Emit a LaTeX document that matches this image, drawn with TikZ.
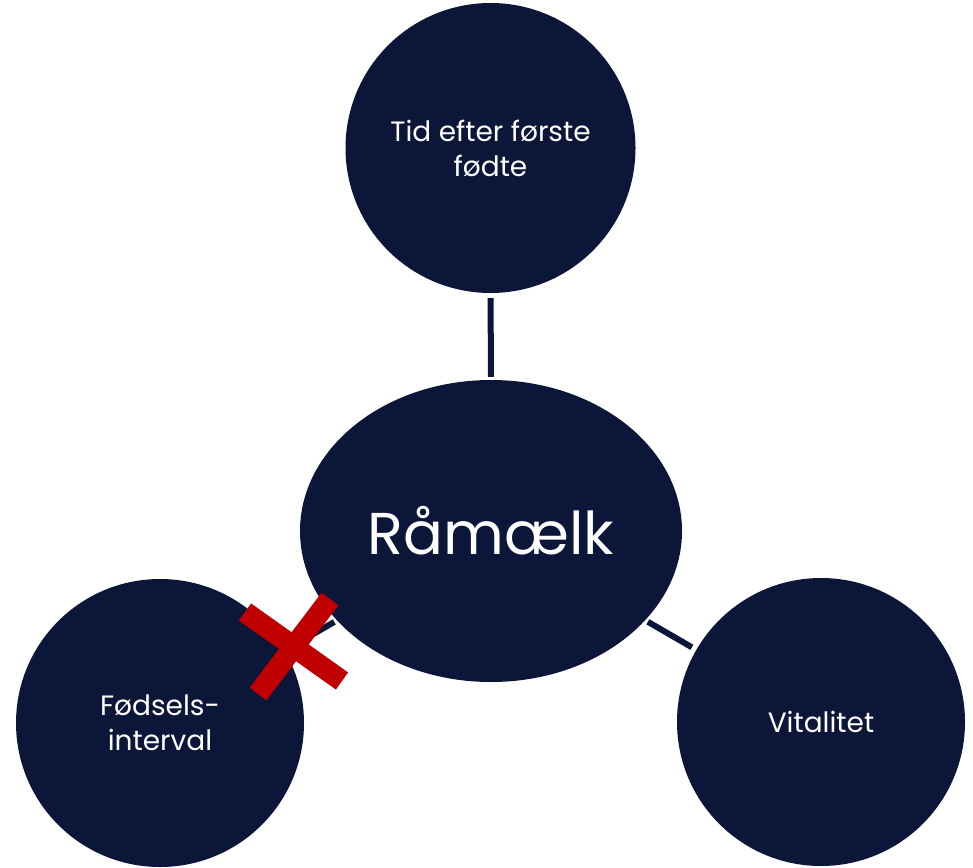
\documentclass[tikz,border=0pt]{standalone}
\usepackage{fontspec}
\setmainfont{Poppins}
\usetikzlibrary{shapes.geometric}
\definecolor{navy}{HTML}{0B1639}
\definecolor{xred}{HTML}{C00000}
\tikzset{
  bubble/.style={circle, fill=navy, draw=none, inner sep=0pt, minimum size=288pt,
    text=white, align=center, font=\fontsize{28}{35}\selectfont},
  conn/.style={draw=navy, line width=6pt, shorten <=3pt, shorten >=5pt},
  xbar/.style={draw=xred, line width=21pt}
}
\begin{document}
\begin{tikzpicture}[x=1pt,y=-1pt]
\useasboundingbox (0,0) rectangle (973,867);
\node[bubble, minimum size=290pt] (top) at (490.5,148) {Tid efter første\\fødte};
\node[bubble] (left) at (160,723) {Fødsels-\\interval};
\node[bubble] (right) at (821,722) {Vitalitet};
\node[ellipse, fill=navy, inner sep=0pt, minimum width=382pt, minimum height=302pt,
  text=white, font=\fontsize{59}{70}\selectfont] (center) at (491,531) {Råmælk};
\draw[conn] (center) -- (top);
\draw[conn] (center) -- (right);
\draw[conn] (center) -- (left);
\coordinate (xa1) at (245,612);
\coordinate (xa2) at (342,681);
\coordinate (xb1) at (330,599);
\coordinate (xb2) at (258,694);
\draw[xbar] (xa1) -- (xa2);
\draw[xbar] (xb1) -- (xb2);
\end{tikzpicture}
\end{document}
